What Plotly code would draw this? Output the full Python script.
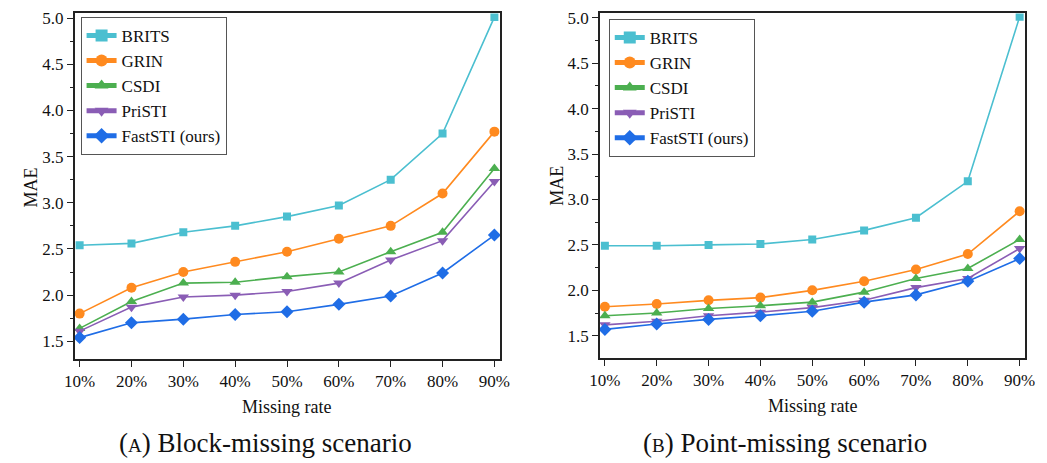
import plotly.graph_objects as go

rates = ["10%", "20%", "30%", "40%", "50%", "60%", "70%", "80%", "90%"]
models = ["BRITS", "GRIN", "CSDI", "PriSTI", "FastSTI (ours)"]

block_brits = [2.54, 2.56, 2.68, 2.75, 2.85, 2.97, 3.25, 3.75, 5.01]
block_grin = [1.80, 2.08, 2.25, 2.36, 2.47, 2.61, 2.75, 3.10, 3.77]
block_csdi = [1.64, 1.93, 2.13, 2.14, 2.20, 2.25, 2.47, 2.68, 3.37]
block_pristi = [1.61, 1.87, 1.98, 2.00, 2.04, 2.13, 2.38, 2.59, 3.23]
block_fast = [1.54, 1.70, 1.74, 1.79, 1.82, 1.90, 1.99, 2.24, 2.65]

point_brits = [2.49, 2.49, 2.50, 2.51, 2.56, 2.66, 2.80, 3.20, 5.01]
point_grin = [1.82, 1.85, 1.89, 1.92, 2.00, 2.10, 2.23, 2.40, 2.87]
point_csdi = [1.72, 1.75, 1.80, 1.83, 1.87, 1.98, 2.13, 2.24, 2.56]
point_pristi = [1.62, 1.66, 1.72, 1.76, 1.81, 1.89, 2.03, 2.13, 2.46]
point_fast = [1.57, 1.63, 1.68, 1.72, 1.77, 1.87, 1.95, 2.10, 2.35]

colors = ["#4bbfd0", "#ff8a1f", "#4caf50", "#8a5db5", "#1f6de6"]
symbols = ["square", "circle", "triangle-up", "triangle-down", "diamond"]
sizes = [8, 10, 10, 10, 10]

block = [block_brits, block_grin, block_csdi, block_pristi, block_fast]
point = [point_brits, point_grin, point_csdi, point_pristi, point_fast]

W, H = 1047, 463
FONT = "Liberation Serif"

fig = go.Figure()
xs = list(range(1, len(rates) + 1))

for i, name in enumerate(models):
    fig.add_trace(go.Scatter(
        x=xs, y=block[i], name=name, mode="lines+markers",
        line=dict(color=colors[i], width=1.6),
        marker=dict(symbol=symbols[i], size=sizes[i], color=colors[i]),
        xaxis="x", yaxis="y", legend="legend"))
for i, name in enumerate(models):
    fig.add_trace(go.Scatter(
        x=xs, y=point[i], name=name, mode="lines+markers",
        line=dict(color=colors[i], width=1.6),
        marker=dict(symbol=symbols[i], size=sizes[i], color=colors[i]),
        xaxis="x2", yaxis="y2", legend="legend2"))

def px(x):
    return x / W

def py(y):
    return 1 - y / H

axis_common = dict(showgrid=False, zeroline=False, showline=True, linecolor="#222",
                   linewidth=1.5, mirror=True, ticks="outside", ticklen=6, tickwidth=1.3,
                   tickcolor="#222", ticklabeloverflow="allow",
                   tickfont=dict(family=FONT, size=17, color="#111"))

xcommon = dict(axis_common, tickmode="array", tickvals=xs, ticktext=rates)
ycommon = dict(axis_common, tickmode="array",
               tickvals=[1.5, 2.0, 2.5, 3.0, 3.5, 4.0, 4.5, 5.0],
               ticktext=["1.5", "2.0", "2.5", "3.0", "3.5", "4.0", "4.5", "5.0"],
               minor=dict(tickvals=[1.75, 2.25, 2.75, 3.25, 3.75, 4.25, 4.75],
                          ticks="outside", ticklen=3, tickwidth=1.1, tickcolor="#222"))

legend_common = dict(bgcolor="rgba(255,255,255,1)", bordercolor="#555", borderwidth=1,
                     font=dict(family=FONT, size=17, color="#111"),
                     xanchor="left", yanchor="top", tracegroupgap=0,
                     itemsizing="constant")

fig.update_layout(
    width=W, height=H, margin=dict(l=0, r=0, t=0, b=0),
    paper_bgcolor="white", plot_bgcolor="white",
    xaxis=dict(xcommon, domain=[px(65), px(499)], range=[0.905, 9.108], anchor="y"),
    yaxis=dict(ycommon, domain=[py(358), py(8.5)], range=[1.307, 5.05], anchor="x"),
    xaxis2=dict(xcommon, domain=[px(601), px(1035)], range=[0.905, 9.108], anchor="y2"),
    yaxis2=dict(ycommon, domain=[py(356.7), py(8.5)], range=[1.257, 5.048], anchor="x2"),
    legend=dict(legend_common, x=px(71), y=py(12)),
    legend2=dict(legend_common, x=px(610), y=py(14)),
    showlegend=True,
)

ann = []
def add_text(text, x, y, size, angle=0):
    ann.append(dict(text=text, x=px(x), y=py(y), xref="paper", yref="paper",
                    showarrow=False, xanchor="center", yanchor="middle",
                    textangle=angle, font=dict(family=FONT, size=size, color="#111")))

add_text("MAE", 20, 185, 18, -90)
add_text("MAE", 557, 183, 18, -90)
add_text("Missing rate", 282, 406, 18)
add_text("Missing rate", 818, 405, 18)
add_text("(<span style='font-size:19px'>A</span>) Block-missing scenario", 260, 443, 27)
add_text("(<span style='font-size:19px'>B</span>) Point-missing scenario", 790, 443, 27)
fig.update_layout(annotations=ann)

fig.write_html("out.html", config={"displayModeBar": False},
               post_script="document.body.style.margin='0px';document.body.style.overflow='hidden';")
